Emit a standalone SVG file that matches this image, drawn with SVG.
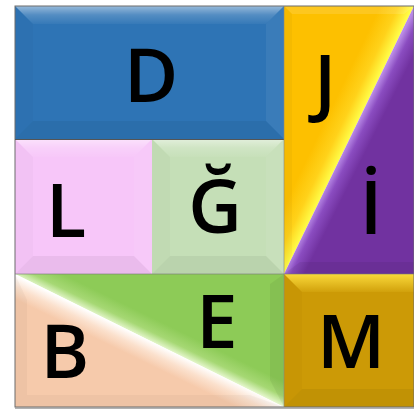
<svg xmlns="http://www.w3.org/2000/svg" width="414" height="413" viewBox="0 0 414 413">
<style>
.lbl{font-family:"Open Sans","Liberation Sans",sans-serif;font-size:74px;font-weight:600;fill:#000;text-anchor:middle}
.bt{fill:url(#topg)}
.bl{fill:#000;fill-opacity:0.02}
.br{fill:#fff;fill-opacity:0.06}
.bb{fill:#000;fill-opacity:0.05}
.edge{fill:none;stroke:#6d6d6d;stroke-width:1}
</style>
<defs>
<linearGradient id="topg" x1="0" y1="0" x2="0" y2="1">
<stop offset="0" stop-color="#fff" stop-opacity="0.5"/>
<stop offset="0.5" stop-color="#fff" stop-opacity="0.18"/>
<stop offset="1" stop-color="#fff" stop-opacity="0.04"/>
</linearGradient>
<linearGradient id="gy" gradientUnits="userSpaceOnUse" x1="322" y1="127" x2="349" y2="140">
<stop offset="0" stop-color="#FDC000"/>
<stop offset="0.55" stop-color="#FFD21A"/>
<stop offset="1" stop-color="#FFFF4A"/>
</linearGradient>
<linearGradient id="gp" gradientUnits="userSpaceOnUse" x1="349" y1="140" x2="367" y2="149">
<stop offset="0" stop-color="#B98AE6"/>
<stop offset="0.4" stop-color="#8A4CC0"/>
<stop offset="1" stop-color="#7132A0"/>
</linearGradient>
<linearGradient id="gb" gradientUnits="userSpaceOnUse" x1="149.5" y1="340.5" x2="140" y2="360">
<stop offset="0" stop-color="#FFFFFF"/>
<stop offset="0.5" stop-color="#FBE0CC"/>
<stop offset="1" stop-color="#F6CAAB"/>
</linearGradient>
<linearGradient id="ge" gradientUnits="userSpaceOnUse" x1="149.5" y1="340.5" x2="159" y2="321">
<stop offset="0" stop-color="#E2F5C8"/>
<stop offset="0.4" stop-color="#A6D874"/>
<stop offset="1" stop-color="#8DCB57"/>
</linearGradient>
<linearGradient id="gm" x1="0" y1="0" x2="0" y2="1">
<stop offset="0" stop-color="#FFE040" stop-opacity="0.9"/>
<stop offset="1" stop-color="#FFE040" stop-opacity="0.1"/>
</linearGradient>
</defs>

<g id="D">
<rect x="15" y="6" width="269" height="133" fill="#2E74B5"/>
<polygon class="bt" points="15,6 284,6 266,24 33,24"/>
<polygon class="bl" points="15,6 33,24 33,121 15,139"/>
<polygon class="br" points="284,6 284,139 266,121 266,24"/>
<polygon class="bb" points="15,139 284,139 266,121 33,121"/>
<text class="lbl" x="151" y="102">D</text>
</g>

<g id="L">
<rect x="15" y="139" width="137" height="135" fill="#F7C6F9"/>
<polygon class="bt" points="15,139 152,139 134,157 33,157"/>
<polygon class="bl" points="15,139 33,157 33,256 15,274"/>
<polygon class="br" points="152,139 152,274 134,256 134,157"/>
<polygon class="bb" points="15,274 152,274 134,256 33,256"/>
<text class="lbl" x="66" y="237">L</text>
</g>

<g id="G">
<rect x="152" y="139" width="132" height="135" fill="#C5DFB7"/>
<polygon class="bt" points="152,139 284,139 266,157 170,157"/>
<polygon class="bl" points="152,139 170,157 170,256 152,274"/>
<polygon class="br" points="284,139 284,274 266,256 266,157"/>
<polygon class="bb" points="152,274 284,274 266,256 170,256"/>
<text class="lbl" x="215" y="233">Ğ</text>
</g>

<g id="J">
<polygon points="284,6 414,6 284,274" fill="url(#gy)"/>
<polygon points="284,6 414,6 404,14 292,14" fill="#fff" fill-opacity="0.12"/>
<polygon points="284,6 292,14 292,254 284,274" fill="#000" fill-opacity="0.03"/>
<text class="lbl" x="325" y="108">J</text>
</g>

<g id="I">
<polygon points="414,6 414,274 284,274" fill="url(#gp)"/>
<polygon points="414,274 284,274 300,262 414,262" fill="#000" fill-opacity="0.06"/>
<text class="lbl" x="371" y="234">İ</text>
</g>

<g id="E">
<polygon points="15,274 284,274 284,407" fill="url(#ge)"/>
<polygon points="284,274 284,407 270,380 270,284" fill="#000" fill-opacity="0.05"/>
<text class="lbl" x="217" y="348">E</text>
</g>

<g id="B">
<polygon points="15,274 15,407 284,407" fill="url(#gb)"/>
<polygon points="15,274 27,300 27,395 15,407" fill="#000" fill-opacity="0.03"/>
<polygon points="15,407 284,407 250,395 27,395" fill="#000" fill-opacity="0.03"/>
<text class="lbl" x="65" y="378">B</text>
</g>

<g id="M">
<rect x="284" y="274" width="130" height="133" fill="#CC9A06"/>
<polygon points="284,274 414,274 414,292 302,292" fill="url(#gm)"/>
<polygon class="bl" points="284,274 302,292 302,389 284,407"/>
<polygon class="bb" points="284,407 414,407 414,389 302,389"/>
<text class="lbl" x="351" y="368">M</text>
</g>

<g id="frame">
<rect class="edge" x="15" y="6" width="399" height="401"/>
<line x1="15" y1="139.5" x2="284" y2="139.5" stroke="#555" stroke-width="1"/>
<line x1="15" y1="274" x2="414" y2="274" stroke="#777" stroke-width="0.6"/>
<line x1="284" y1="6" x2="284" y2="407" stroke="#888" stroke-width="0.6"/>
<line x1="15" y1="408" x2="414" y2="408" stroke="#999" stroke-width="1.5"/>
</g>
</svg>
